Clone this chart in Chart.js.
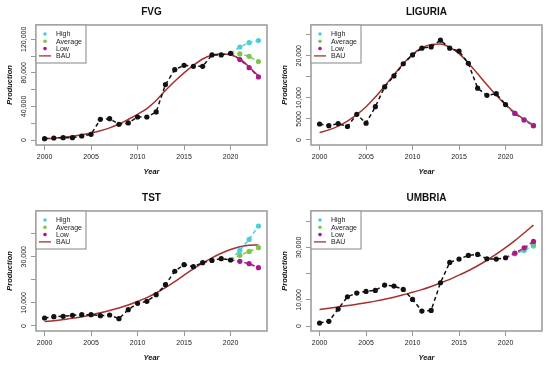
<!DOCTYPE html>
<html>
<head>
<meta charset="utf-8">
<script src="https://cdn.jsdelivr.net/npm/chart.js@4.4.0/dist/chart.umd.min.js"></script>
<style>
  html, body { margin: 0; padding: 0; background: #fff; overflow: hidden; }
  #wrap { position: relative; width: 550px; height: 368px; }
  canvas { position: absolute; }
</style>
</head>
<body>
<div id="wrap">
  <canvas id="fvg" width="275" height="184" style="left:0;top:0"></canvas>
  <canvas id="liguria" width="275" height="184" style="left:275px;top:0"></canvas>
  <canvas id="tst" width="275" height="184" style="left:0;top:186px"></canvas>
  <canvas id="umbria" width="275" height="184" style="left:275px;top:186px"></canvas>
</div>
<script>
'use strict';

// years
const years = [2000, 2001, 2002, 2003, 2004, 2005, 2006, 2007, 2008, 2009, 2010, 2011,
               2012, 2013, 2014, 2015, 2016, 2017, 2018, 2019, 2020, 2021, 2022, 2023];
const obsYears = [2000, 2001, 2002, 2003, 2004, 2005, 2006, 2007, 2008, 2009, 2010,
                  2011, 2012, 2013, 2014, 2015, 2016, 2017, 2018, 2019, 2020];
const fcYears = [2020, 2021, 2022, 2023];
const xTicks = [2000, 2005, 2010, 2015, 2020];
const legendNames = ['High', 'Average', 'Low', 'BAU'];

// FVG
const fvgObserved = [1600, 2400, 2800, 2800, 4800, 6800, 24600, 25400, 18700, 20300, 27400,
                     27400, 33400, 66000, 83800, 89000, 87800, 87800, 101300, 101300, 103300];
const fvgHigh = [103300, 110800, 116000, 118400];
const fvgAverage = [103300, 102500, 99700, 93400];
const fvgLow = [103300, 95800, 86200, 75100];
const fvgBau = [1500, 2200, 3200, 4500, 6200, 8400, 11000, 14500, 19000, 24600, 30600, 37500,
                47000, 59000, 70000, 80000, 89000, 96500, 101000, 102500, 101500, 96500, 87000, 76000];
const fvgTicks = [0, 20000, 40000, 60000, 80000, 100000, 120000];
const fvgTickLabels = ['0', '', '40,000', '', '80,000', '', '120,000'];
const fvgRange = [-5950, 137000];

// LIGURIA
const ligObserved = [3800, 3400, 3900, 3200, 6100, 4000, 7900, 12600, 15200, 18100, 20200,
                     21800, 22100, 23700, 21800, 21100, 18200, 12300, 10600, 11000, 8400];
const ligHigh = [8400, 6300, 4800, 3400];
const ligAverage = [8400, 6350, 4850, 3450];
const ligLow = [8400, 6300, 4750, 3400];
const ligBau = [1750, 2400, 3300, 4500, 6000, 7900, 10200, 12800, 15500, 18100, 20300, 21900,
                22700, 22800, 22000, 20500, 18300, 15700, 13100, 10600, 8400, 6500, 4900, 3600];
const ligTicks = [0, 5000, 10000, 15000, 20000, 25000];
const ligTickLabels = ['0', '5000', '10,000', '', '20,000', ''];
const ligRange = [-1190, 27300];

// TST
const tstObserved = [3460, 4040, 4180, 4620, 4900, 4900, 4470, 4760, 3170, 7070, 9810,
                     10700, 13560, 17900, 23700, 26550, 25700, 27400, 28400, 29150, 28570];
const tstHigh = [28570, 32760, 37500, 43300];
const tstAverage = [28570, 30600, 32300, 33900];
const tstLow = [28570, 28000, 27000, 25250];
const tstBau = [1900, 2300, 2800, 3300, 4000, 4800, 5700, 6700, 7800, 9100, 10600, 12300,
                14300, 16600, 19200, 22000, 24700, 27200, 29500, 31500, 33100, 34300, 35000, 35100];
const tstTicks = [0, 10000, 20000, 30000, 40000];
const tstTickLabels = ['0', '10,000', '', '30,000', ''];
const tstRange = [-2170, 49800];

// UMBRIA
const umbObserved = [1140, 1780, 6480, 11180, 12580, 13210, 13600, 15630, 15250, 13980, 10170,
                     5720, 5970, 16520, 24270, 25540, 26940, 27320, 25670, 25540, 26050];
const umbHigh = [26050, 27570, 28840, 30500];
const umbAverage = [26050, 27700, 29480, 31390];
const umbLow = [26050, 27830, 29860, 32270];
const umbBau = [6300, 6800, 7300, 7800, 8300, 8900, 9500, 10200, 11000, 11900, 12900, 13900,
                15100, 16400, 17800, 19400, 21100, 23000, 25100, 27400, 29900, 32600, 35500, 38500];
const umbTicks = [0, 10000, 20000, 30000, 40000];
const umbTickLabels = ['0', '10,000', '', '30,000', ''];
const umbRange = [-1900, 43900];

const colHigh = '#46d0d8';
const colAvg = '#7cc552';
const colLow = '#a8188f';
const colBau = '#a53030';
const colObs = '#111111';
const FONT = '"Liberation Sans", Arial, sans-serif';

const pts = (xs, ys) => xs.map((x, i) => ({x: x, y: ys[i]}));

// R style frame, rotated y labels and legend
const rPlot = {
    id: 'rplot',
    afterDraw(chart) {
        const ctx = chart.ctx;
        const a = chart.chartArea;
        ctx.save();
        ctx.strokeStyle = '#999';
        ctx.lineWidth = 1.5;
        ctx.strokeRect(a.left, a.top, a.right - a.left, a.bottom - a.top);

        // y tick labels, rotated like R's las=0
        const ys = chart.scales.y;
        ctx.fillStyle = '#222';
        ctx.font = '7px ' + FONT;
        ctx.textAlign = 'center';
        ctx.textBaseline = 'middle';
        for (const t of ys.ticks) {
            if (!t.label) continue;
            const py = ys.getPixelForValue(t.value);
            ctx.save();
            ctx.translate(a.left - 12, py);
            ctx.rotate(-Math.PI / 2);
            ctx.fillText(t.label, 0, 0);
            ctx.restore();
        }

        // legend, top left
        const lx = a.left, ly = a.top;
        ctx.fillStyle = '#fff';
        ctx.fillRect(lx, ly, 50, 38);
        ctx.strokeStyle = '#999';
        ctx.lineWidth = 1.2;
        ctx.strokeRect(lx, ly, 50, 38);
        ctx.font = '7px ' + FONT;
        ctx.textAlign = 'left';
        const cols = [colHigh, colAvg, colLow, colBau];
        legendNames.forEach((name, i) => {
            const y = ly + 9 + i * 7.3;
            if (name === 'BAU') {
                ctx.strokeStyle = cols[i];
                ctx.lineWidth = 1.3;
                ctx.beginPath();
                ctx.moveTo(lx + 3, y);
                ctx.lineTo(lx + 15, y);
                ctx.stroke();
            } else {
                ctx.fillStyle = cols[i];
                ctx.beginPath();
                ctx.arc(lx + 9, y, 1.8, 0, Math.PI * 2);
                ctx.fill();
            }
            ctx.fillStyle = '#222';
            ctx.fillText(name, lx + 20, y + 0.5);
        });
        ctx.restore();
    }
};

const makeChart = function(id, title, observed, high, average, low, bau, yTicks, yTickLabels, range) {
    const canvas = document.getElementById(id);
    const fcRadius = (c) => c.dataIndex === 0 ? 0 : 2.6;
    const dash = [4, 3];
    return new Chart(canvas, {
        type: 'line',
        data: {
            datasets: [
                {label: 'Observed', data: pts(obsYears, observed), borderColor: colObs,
                 borderWidth: 1.5, borderDash: dash, pointRadius: 2.6, pointBackgroundColor: colObs,
                 pointBorderWidth: 0},
                {label: 'Low', data: pts(fcYears, low), borderColor: colLow, borderWidth: 1.5,
                 borderDash: dash, pointRadius: fcRadius, pointBackgroundColor: colLow, pointBorderWidth: 0},
                {label: 'Average', data: pts(fcYears, average), borderColor: colAvg, borderWidth: 1.5,
                 borderDash: dash, pointRadius: fcRadius, pointBackgroundColor: colAvg, pointBorderWidth: 0},
                {label: 'High', data: pts(fcYears, high), borderColor: colHigh, borderWidth: 1.5,
                 borderDash: dash, pointRadius: fcRadius, pointBackgroundColor: colHigh, pointBorderWidth: 0},
                {label: 'BAU', data: pts(years, bau), borderColor: colBau, borderWidth: 1.5,
                 pointRadius: 0, cubicInterpolationMode: 'monotone'}
            ]
        },
        options: {
            responsive: false,
            animation: false,
            devicePixelRatio: 1,
            layout: {padding: {left: 0, right: 8, top: 0, bottom: 0}},
            plugins: {
                legend: {display: false},
                tooltip: {enabled: false},
                title: {
                    display: true, text: title, fullSize: false, color: '#111',
                    font: {family: FONT, size: 10, weight: 'bold'},
                    padding: {top: 6, bottom: 7}
                }
            },
            scales: {
                x: {
                    type: 'linear', min: 1999.08, max: 2023.92,
                    afterBuildTicks: (s) => { s.ticks = xTicks.map(v => ({value: v})); },
                    afterFit: (s) => { s.height = 39; },
                    ticks: {font: {family: FONT, size: 7}, color: '#222', padding: 2.5,
                            maxRotation: 0, autoSkip: false, callback: (v) => String(v)},
                    grid: {drawOnChartArea: false, tickLength: 5, tickColor: '#999', tickWidth: 1},
                    border: {display: false},
                    title: {display: true, text: 'Year', color: '#111',
                            font: {family: FONT, size: 7.5, weight: 'bold', style: 'italic'},
                            padding: {top: 0, bottom: 7.5}}
                },
                y: {
                    min: range[0], max: range[1],
                    afterBuildTicks: (s) => { s.ticks = yTicks.map(v => ({value: v})); },
                    afterFit: (s) => { s.width = 36; },
                    ticks: {display: false, autoSkip: false,
                            callback: (v, i) => yTickLabels[i]},
                    grid: {drawOnChartArea: false, tickLength: 5, tickColor: '#999', tickWidth: 1},
                    border: {display: false},
                    title: {display: true, text: 'Production', color: '#111',
                            font: {family: FONT, size: 7.5, weight: 'bold', style: 'italic'},
                            padding: {top: 5.5, bottom: 0}}
                }
            }
        },
        plugins: [rPlot]
    });
};

document.addEventListener('DOMContentLoaded', function() {
    makeChart('fvg', 'FVG', fvgObserved, fvgHigh, fvgAverage, fvgLow, fvgBau, fvgTicks, fvgTickLabels, fvgRange);
    makeChart('liguria', 'LIGURIA', ligObserved, ligHigh, ligAverage, ligLow, ligBau, ligTicks, ligTickLabels, ligRange);
    makeChart('tst', 'TST', tstObserved, tstHigh, tstAverage, tstLow, tstBau, tstTicks, tstTickLabels, tstRange);
    makeChart('umbria', 'UMBRIA', umbObserved, umbHigh, umbAverage, umbLow, umbBau, umbTicks, umbTickLabels, umbRange);
});
</script>
</body>
</html>
